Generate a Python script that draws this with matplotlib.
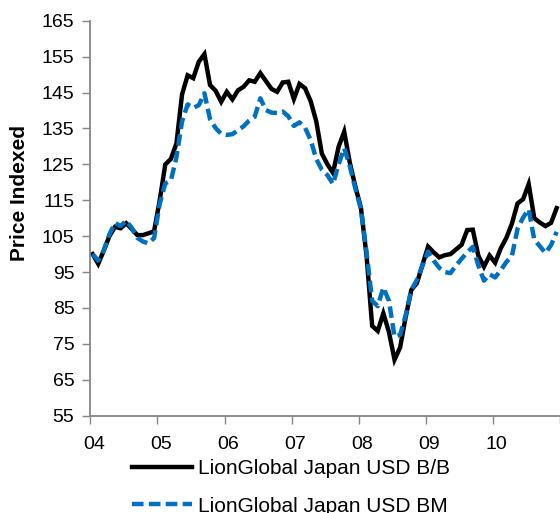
import numpy as np
import matplotlib
matplotlib.use('Agg')
import matplotlib.pyplot as plt
import matplotlib.transforms as mtransforms

# monthly index values, Jan 2004 .. Dec 2010
bb_values = [100.0, 97.3, 101.0, 105.0, 107.6, 107.2, 108.6, 107.0, 105.3, 105.3,
             105.8, 106.4, 115.0, 125.0, 126.5, 130.9, 144.5, 149.8, 149.0, 153.6,
             155.7, 147.1, 145.5, 142.4, 145.2, 143.1, 145.6, 146.6, 148.4, 148.0,
             150.4, 148.2, 146.0, 145.2, 147.8, 148.0, 143.2, 147.4, 146.2, 142.6,
             137.0, 128.0, 125.0, 122.6, 129.9, 134.1, 125.5, 118.8, 112.8, 99.5,
             80.0, 78.6, 83.5, 78.3, 70.6, 74.0, 82.5, 90.0, 91.9, 97.0,
             102.1, 100.5, 99.1, 99.7, 100.0, 101.3, 102.6, 106.7, 106.8, 99.5,
             96.5, 99.6, 97.6, 101.6, 104.5, 108.5, 114.1, 115.3, 119.5, 110.0,
             108.8, 107.8, 108.7, 112.8]
bm_values = [100.0, 98.2, 101.0, 105.5, 108.7, 107.8, 109.3, 107.3, 104.5, 103.5,
             103.0, 104.5, 114.0, 119.7, 120.5, 127.0, 137.0, 141.7, 140.7, 141.5,
             144.8, 137.6, 135.1, 133.5, 133.2, 133.4, 134.5, 135.6, 137.2, 138.3,
             143.4, 140.1, 139.4, 139.3, 139.7, 138.4, 135.7, 136.7, 135.2, 131.8,
             126.5, 123.5, 122.0, 119.5, 125.0, 129.5, 124.5, 118.2, 112.5, 100.5,
             87.0, 85.5, 90.7, 87.0, 77.0, 77.5, 83.0, 90.0, 92.8, 96.8,
             100.7, 98.2, 96.2, 95.0, 94.7, 96.8, 98.7, 100.5, 102.0, 96.8,
             92.6, 94.4, 93.5, 95.5, 97.8, 99.5, 107.0, 110.2, 112.5, 104.0,
             102.2, 100.3, 102.5, 106.2]
year_ticks = [2004, 2005, 2006, 2007, 2008, 2009, 2010, 2011]
year_labels = ['04', '05', '06', '07', '08', '09', '10', '']
y_ticks = list(range(55, 166, 10))
series_names = ['LionGlobal Japan USD B/B', 'LionGlobal Japan USD BM']

months = 2004 + (np.arange(len(bb_values)) + 0.4) / 12.0

plt.rcParams['font.family'] = ['Liberation Sans', 'DejaVu Sans']

fig = plt.figure(figsize=(5.6, 5.13), dpi=100)
ax = fig.add_axes([0.1614, 0.1897, 0.8386, 0.7699])

ax.plot(months, bb_values, color='black', linewidth=3.2, label=series_names[0],
        solid_joinstyle='miter')
ax.plot(months, bm_values, color='#0070C0', linewidth=3.2, label=series_names[1],
        linestyle=(0, (2.6, 1.2)))

ax.set_xlim(2004, 2011)
ax.set_ylim(55, 165)
ax.set_xticks(year_ticks)
ax.set_xticklabels(year_labels)
ax.set_yticks(y_ticks)

for s in ['top', 'right']:
    ax.spines[s].set_visible(False)
for s in ['left', 'bottom']:
    ax.spines[s].set_color('#868686')
    ax.spines[s].set_linewidth(1.3)

ax.tick_params(axis='both', direction='out', length=5.5, width=1.0,
               color='#868686', labelsize=14, labelcolor='black')
ax.tick_params(axis='y', pad=6)
ax.tick_params(axis='x', pad=9)

# excel puts the year labels a little right of the tick
offset = mtransforms.ScaledTranslation(3.5 / 100, 0, fig.dpi_scale_trans)
for lab in ax.get_xticklabels():
    lab.set_transform(lab.get_transform() + offset)

ax.set_ylabel('Price Indexed', fontsize=15, fontweight='bold')
ax.yaxis.set_label_coords(-0.13, 0.564)

fig.legend(loc='upper left', bbox_to_anchor=(0.2357, 0.1043), frameon=False,
           fontsize=15, handlelength=2.88, handletextpad=0.3, borderpad=0,
           borderaxespad=0, labelspacing=0.87)

fig.savefig('out.png', dpi=100)
